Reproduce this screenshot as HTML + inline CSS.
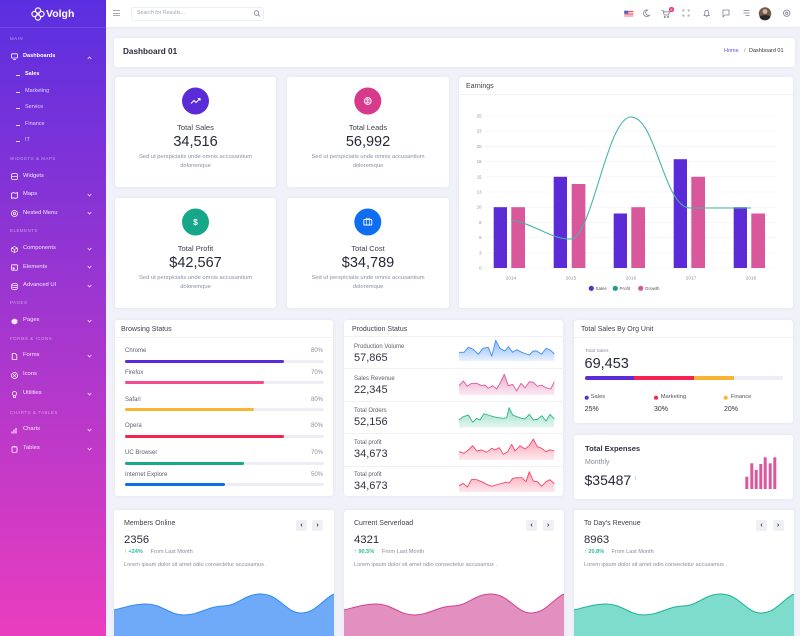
<!DOCTYPE html>
<html><head><meta charset="utf-8">
<style>
*{box-sizing:border-box;margin:0;padding:0}
html,body{width:800px;height:636px;overflow:hidden}
body{background:#f1f1f9;font-family:"Liberation Sans",sans-serif;position:relative;color:#333}
.t{position:absolute;white-space:nowrap;line-height:1}
.card{position:absolute;background:#fff;border-radius:3px;box-shadow:0 0 3px rgba(60,60,120,0.07)}
#sb{position:absolute;left:0;top:0;width:106px;height:636px;background:linear-gradient(180deg,#5a2fe0 0%,#ea3dbe 100%)}
.sec{position:absolute;left:10px;font-size:4.3px;letter-spacing:0.6px;color:rgba(255,255,255,0.5);line-height:1;white-space:nowrap}
.mi{position:absolute;left:23px;font-size:5.8px;color:rgba(255,255,255,0.88);line-height:1;white-space:nowrap;margin-top:0.3px}
.sub{position:absolute;left:25px;font-size:5.5px;color:rgba(255,255,255,0.78);line-height:1;white-space:nowrap;margin-top:0.2px}
.dash{position:absolute;left:16px;width:4px;height:1px;background:rgba(255,255,255,0.8)}
.chev{position:absolute;left:87.5px;width:3px;height:3px;border-right:1px solid rgba(255,255,255,0.7);border-bottom:1px solid rgba(255,255,255,0.7);transform:rotate(45deg)}
.ic{position:absolute;left:10.5px;width:7px;height:7px}
.ttl{font-size:7px;color:#3e4050}
.lbl{font-size:6px;color:#5d6070}
.pct{font-size:6px;color:#8a8d9c;text-align:right}
.track{position:absolute;left:125px;width:199px;height:3px;background:#ededf5;border-radius:2px}
.fill{position:absolute;left:0;top:0;height:3px;border-radius:2px}
.num{font-size:14.5px;color:#262838}
.desc{font-size:5.8px;color:#8a8fa5;text-align:center;width:160px}
.btn{position:absolute;top:520px;width:11px;height:11px;background:#eef0f6;border-radius:2px;font-size:7px;line-height:11px;text-align:center;color:#333;font-weight:bold}
.div{position:absolute;height:1px;background:#f0f0f6}
</style></head>
<body>

<!-- Sidebar -->
<div id="sb">
  <div style="position:absolute;left:0;top:27px;width:106px;height:1px;background:rgba(255,255,255,0.12)"></div>
  <svg style="position:absolute;left:31px;top:7px" width="14" height="14" viewBox="0 0 14 14"><g fill="none" stroke="#fff" stroke-width="1.2"><circle cx="7" cy="3.5" r="2.6"/><circle cx="3.5" cy="7" r="2.6"/><circle cx="10.5" cy="7" r="2.6"/><circle cx="7" cy="10.5" r="2.6"/></g></svg>
  <div class="t" style="left:46px;top:9px;font-size:10.5px;font-weight:bold;color:#fff">Volgh</div>

  <div class="sec" style="top:37px">MAIN</div>
  <svg class="ic" style="top:53px" viewBox="0 0 7 7"><rect x="0.5" y="0.8" width="6" height="4.2" rx="0.6" fill="none" stroke="#fff" stroke-width="0.8"/><line x1="2" y1="6.4" x2="5" y2="6.4" stroke="#fff" stroke-width="0.8"/></svg>
  <div class="mi" style="top:53.5px;font-weight:bold;color:#fff;font-size:5.6px">Dashboards</div>
  <div class="chev" style="top:56.5px;transform:rotate(-135deg)"></div>
  <div class="dash" style="top:75px"></div><div class="sub" style="top:72.3px;color:#fff;font-weight:bold">Sales</div>
  <div class="dash" style="top:92px"></div><div class="sub" style="top:89px">Marketing</div>
  <div class="dash" style="top:108px"></div><div class="sub" style="top:105.3px">Service</div>
  <div class="dash" style="top:125px"></div><div class="sub" style="top:122px">Finance</div>
  <div class="dash" style="top:141px"></div><div class="sub" style="top:138.3px">IT</div>

  <div class="sec" style="top:157px">WIDGETS &amp; MAPS</div>
  <svg class="ic" style="top:173.2px" viewBox="0 0 7 7"><rect x="0.6" y="0.6" width="5.8" height="5.8" rx="1.2" fill="none" stroke="#fff" stroke-width="0.8"/><line x1="0.6" y1="3.5" x2="6.4" y2="3.5" stroke="#fff" stroke-width="0.7"/></svg>
  <div class="mi" style="top:173.4px">Widgets</div>
  <svg class="ic" style="top:191.5px" viewBox="0 0 7 7"><path d="M0.5 1.3 L2.5 0.6 L4.5 1.3 L6.5 0.6 V5.7 L4.5 6.4 L2.5 5.7 L0.5 6.4Z" fill="none" stroke="#fff" stroke-width="0.8"/></svg>
  <div class="mi" style="top:191.7px">Maps</div><div class="chev" style="top:192.5px"></div>
  <svg class="ic" style="top:210.2px" viewBox="0 0 7 7"><circle cx="3.5" cy="3.5" r="3" fill="none" stroke="#fff" stroke-width="0.8"/><circle cx="3.5" cy="3.5" r="1.2" fill="none" stroke="#fff" stroke-width="0.7"/></svg>
  <div class="mi" style="top:210.4px">Nested Menu</div><div class="chev" style="top:211.2px"></div>

  <div class="sec" style="top:229.3px">ELEMENTS</div>
  <svg class="ic" style="top:245.5px" viewBox="0 0 7 7"><path d="M3.5 0.5 L6.4 2 V5 L3.5 6.5 L0.6 5 V2Z M0.6 2 L3.5 3.5 L6.4 2 M3.5 3.5 V6.5" fill="none" stroke="#fff" stroke-width="0.7"/></svg>
  <div class="mi" style="top:245.7px">Components</div><div class="chev" style="top:246.5px"></div>
  <svg class="ic" style="top:264.2px" viewBox="0 0 7 7"><rect x="0.6" y="0.8" width="5.8" height="5.4" rx="0.6" fill="none" stroke="#fff" stroke-width="0.8"/><rect x="1.6" y="3.4" width="2" height="1.8" fill="#fff"/></svg>
  <div class="mi" style="top:264.4px">Elements</div><div class="chev" style="top:265.2px"></div>
  <svg class="ic" style="top:282.5px" viewBox="0 0 7 7"><ellipse cx="3.5" cy="1.5" rx="2.8" ry="1" fill="none" stroke="#fff" stroke-width="0.7"/><path d="M0.7 1.5 V5.5 C0.7 6.8 6.3 6.8 6.3 5.5 V1.5 M0.7 3.5 C0.7 4.8 6.3 4.8 6.3 3.5" fill="none" stroke="#fff" stroke-width="0.7"/></svg>
  <div class="mi" style="top:282.7px">Advanced UI</div><div class="chev" style="top:283.5px"></div>

  <div class="sec" style="top:301.3px">PAGES</div>
  <svg class="ic" style="top:317.5px" viewBox="0 0 7 7"><path d="M3.5 0.5 L6.4 2 V5 L3.5 6.5 L0.6 5 V2Z" fill="rgba(255,255,255,0.9)"/></svg>
  <div class="mi" style="top:317.7px">Pages</div><div class="chev" style="top:318.5px"></div>

  <div class="sec" style="top:336.7px">FORMS &amp; ICONS</div>
  <svg class="ic" style="top:352.8px" viewBox="0 0 7 7"><path d="M1.2 0.5 H4.3 L5.8 2 V6.5 H1.2Z" fill="none" stroke="#fff" stroke-width="0.8"/></svg>
  <div class="mi" style="top:353px">Forms</div><div class="chev" style="top:353.8px"></div>
  <svg class="ic" style="top:371.5px" viewBox="0 0 7 7"><circle cx="3.5" cy="3.5" r="3" fill="none" stroke="#fff" stroke-width="0.8"/><path d="M2.2 2.2 L4.8 4.8 M4.8 2.2 L2.2 4.8" stroke="#fff" stroke-width="0.7"/></svg>
  <div class="mi" style="top:371.7px">Icons</div>
  <svg class="ic" style="top:390.8px" viewBox="0 0 7 7"><circle cx="3.5" cy="2.6" r="2.1" fill="none" stroke="#fff" stroke-width="0.8"/><path d="M2.5 4.5 V6.6 H4.5 V4.5" fill="none" stroke="#fff" stroke-width="0.8"/></svg>
  <div class="mi" style="top:391px">Utilities</div><div class="chev" style="top:391.8px"></div>

  <div class="sec" style="top:410.7px">CHARTS &amp; TABLES</div>
  <svg class="ic" style="top:426.8px" viewBox="0 0 7 7"><path d="M1 6.5 V4.5 M3 6.5 V2.5 M5 6.5 V1" stroke="#fff" stroke-width="1"/></svg>
  <div class="mi" style="top:427px">Charts</div><div class="chev" style="top:427.8px"></div>
  <svg class="ic" style="top:445.5px" viewBox="0 0 7 7"><rect x="1" y="0.8" width="5" height="5.6" rx="0.8" fill="none" stroke="#fff" stroke-width="0.8"/><line x1="2.5" y1="0.8" x2="4.5" y2="0.8" stroke="#fff" stroke-width="1.2"/></svg>
  <div class="mi" style="top:445.7px">Tables</div><div class="chev" style="top:446.5px"></div>
</div>

<!-- Header -->
<div style="position:absolute;left:106px;top:0;width:694px;height:27px;background:#fff;box-shadow:0 1px 2px rgba(0,0,0,0.04)"></div>
<div style="position:absolute;left:113px;top:10px;width:7px;height:0.8px;background:#a9acbf"></div>
<div style="position:absolute;left:113px;top:12.6px;width:7px;height:0.8px;background:#a9acbf"></div>
<div style="position:absolute;left:113px;top:15.2px;width:7px;height:0.8px;background:#a9acbf"></div>
<div style="position:absolute;left:131px;top:7px;width:133px;height:14px;border:1px solid #eceef5;border-radius:3px"></div>
<div class="t" style="left:137px;top:11.2px;font-size:5.3px;color:#a0a4b8">Search for Results...</div>

<!-- Page header card -->
<div class="card" style="left:114px;top:38px;width:681px;height:29px"></div>
<div class="t" style="left:123px;top:47.8px;font-size:8.2px;font-weight:bold;color:#2c2c3c">Dashboard 01</div>
<div class="t" style="left:724px;top:49.3px;font-size:5.5px;color:#6e4ee5">Home</div>
<div class="t" style="left:744px;top:49.3px;font-size:5.5px;color:#888">/</div>
<div class="t" style="left:749px;top:49.3px;font-size:5.5px;color:#333">Dashboard 01</div>

<!-- Stat cards -->
<div class="card" style="left:115px;top:77px;width:161px;height:110px"></div>
<div class="card" style="left:287px;top:77px;width:162px;height:110px"></div>
<div class="card" style="left:115px;top:198px;width:161px;height:110px"></div>
<div class="card" style="left:287px;top:198px;width:162px;height:110px"></div>

<div class="t ttl" style="left:115px;width:161px;text-align:center;top:124.3px;font-size:7.5px">Total Sales</div>
<div class="t num" style="left:115px;width:161px;text-align:center;top:134.5px">34,516</div>
<div class="t desc" style="left:115.5px;top:155.3px">Sed ut perspiciatis unde omnis accusantium</div>
<div class="t desc" style="left:115.5px;top:164.3px">doloremque</div>

<div class="t ttl" style="left:287px;width:162px;text-align:center;top:124.3px;font-size:7.5px">Total Leads</div>
<div class="t num" style="left:287px;width:162px;text-align:center;top:134.5px">56,992</div>
<div class="t desc" style="left:288px;top:155.3px">Sed ut perspiciatis unde omnis accusantium</div>
<div class="t desc" style="left:288px;top:164.3px">doloremque</div>

<div class="t ttl" style="left:115px;width:161px;text-align:center;top:245.3px;font-size:7.5px">Total Profit</div>
<div class="t num" style="left:115px;width:161px;text-align:center;top:255.5px">$42,567</div>
<div class="t desc" style="left:115.5px;top:276.3px">Sed ut perspiciatis unde omnis accusantium</div>
<div class="t desc" style="left:115.5px;top:285.3px">doloremque</div>

<div class="t ttl" style="left:287px;width:162px;text-align:center;top:245.3px;font-size:7.5px">Total Cost</div>
<div class="t num" style="left:287px;width:162px;text-align:center;top:255.5px">$34,789</div>
<div class="t desc" style="left:288px;top:276.3px">Sed ut perspiciatis unde omnis accusantium</div>
<div class="t desc" style="left:288px;top:285.3px">doloremque</div>

<!-- Earnings -->
<div class="card" style="left:459px;top:77px;width:334px;height:231px"></div>
<div class="t ttl" style="left:466px;top:82.5px">Earnings</div>
<div class="div" style="left:459px;top:94px;width:334px"></div>

<!-- Browsing Status -->
<div class="card" style="left:115px;top:320px;width:218px;height:176px"></div>
<div class="t ttl" style="left:121px;top:325.5px">Browsing Status</div>
<div class="div" style="left:115px;top:337px;width:218px"></div>
<div class="t lbl" style="left:125px;top:348px">Chrome</div><div class="t pct" style="left:283px;width:40px;top:348px">80%</div>
<div class="track" style="top:359.5px"><div class="fill" style="width:80%;background:#5a2bd7"></div></div>
<div class="t lbl" style="left:125px;top:370px">Firefox</div><div class="t pct" style="left:283px;width:40px;top:370px">70%</div>
<div class="track" style="top:380.5px"><div class="fill" style="width:70%;background:#f7498d"></div></div>
<div class="t lbl" style="left:125px;top:397px">Safari</div><div class="t pct" style="left:283px;width:40px;top:397px">80%</div>
<div class="track" style="top:407.5px"><div class="fill" style="width:65%;background:#f8b432"></div></div>
<div class="t lbl" style="left:125px;top:423px">Opera</div><div class="t pct" style="left:283px;width:40px;top:423px">80%</div>
<div class="track" style="top:434.5px"><div class="fill" style="width:80%;background:#f5234f"></div></div>
<div class="t lbl" style="left:125px;top:450px">UC Browser</div><div class="t pct" style="left:283px;width:40px;top:450px">70%</div>
<div class="track" style="top:461.5px"><div class="fill" style="width:60%;background:#16aa88"></div></div>
<div class="t lbl" style="left:125px;top:472px">Internet Explore</div><div class="t pct" style="left:283px;width:40px;top:472px">50%</div>
<div class="track" style="top:482.5px"><div class="fill" style="width:50%;background:#0d6ee8"></div></div>

<!-- Production Status -->
<div class="card" style="left:344px;top:320px;width:219px;height:176px"></div>
<div class="t ttl" style="left:352px;top:325.5px">Production Status</div>
<div class="div" style="left:344px;top:336px;width:219px"></div>
<div class="div" style="left:344px;top:368px;width:219px"></div>
<div class="div" style="left:344px;top:401px;width:219px"></div>
<div class="div" style="left:344px;top:433px;width:219px"></div>
<div class="div" style="left:344px;top:465.5px;width:219px"></div>
<div class="t lbl" style="left:354px;top:343.6px">Production Volume</div>
<div class="t" style="left:354px;top:352.5px;font-size:11px;color:#303242">57,865</div>
<div class="t lbl" style="left:354px;top:375.6px">Sales Revenue</div>
<div class="t" style="left:354px;top:384.5px;font-size:11px;color:#303242">22,345</div>
<div class="t lbl" style="left:354px;top:408px">Total Orders</div>
<div class="t" style="left:354px;top:417px;font-size:11px;color:#303242">52,156</div>
<div class="t lbl" style="left:354px;top:440px">Total profit</div>
<div class="t" style="left:354px;top:449px;font-size:11px;color:#303242">34,673</div>
<div class="t lbl" style="left:354px;top:472px">Total profit</div>
<div class="t" style="left:354px;top:481px;font-size:11px;color:#303242">34,673</div>

<!-- Total Sales By Org Unit -->
<div class="card" style="left:574px;top:320px;width:219px;height:103px"></div>
<div class="t ttl" style="left:581px;top:325.5px">Total Sales By Org Unit</div>
<div class="div" style="left:574px;top:337px;width:219px"></div>
<div class="t" style="left:585px;top:349.5px;font-size:4.8px;color:#8a8d9c">Total Sales</div>
<div class="t" style="left:584.5px;top:356.8px;font-size:14.5px;color:#262838">69,453</div>
<div style="position:absolute;left:585px;top:375.5px;width:198px;height:4px;background:#ededf5;border-radius:2px;overflow:hidden">
  <div style="position:absolute;left:0;top:0;width:49px;height:4px;background:#5a2bd7"></div>
  <div style="position:absolute;left:49px;top:0;width:60px;height:4px;background:#f5234f"></div>
  <div style="position:absolute;left:109px;top:0;width:40px;height:4px;background:#f8b432"></div>
</div>
<div class="t" style="left:590.7px;top:394.6px;font-size:5.8px;color:#555">Sales</div>
<div class="t" style="left:660.7px;top:394.6px;font-size:5.8px;color:#555">Marketing</div>
<div class="t" style="left:730.7px;top:394.6px;font-size:5.8px;color:#555">Finance</div>
<div class="t" style="left:584.7px;top:405.6px;font-size:7px;color:#333">25%</div>
<div class="t" style="left:654px;top:405.6px;font-size:7px;color:#333">30%</div>
<div class="t" style="left:724px;top:405.6px;font-size:7px;color:#333">20%</div>

<!-- Total Expenses -->
<div class="card" style="left:574px;top:435px;width:219px;height:64px"></div>
<div class="t" style="left:585px;top:445.3px;font-size:7.6px;color:#2f3142;font-weight:bold">Total Expenses</div>
<div class="t" style="left:585px;top:459.3px;font-size:7px;color:#8a8d9c">Monthly</div>
<div class="t" style="left:584.5px;top:472.5px;font-size:14px;color:#262838">$35487</div>
<div class="t" style="left:633.5px;top:476px;font-size:6px;color:#2dbb98;font-weight:bold">↑</div>

<!-- Bottom cards -->
<div class="card" style="left:114px;top:510px;width:220px;height:140px;overflow:hidden"></div>
<div class="card" style="left:344px;top:510px;width:220px;height:140px;overflow:hidden"></div>
<div class="card" style="left:574px;top:510px;width:220px;height:140px;overflow:hidden"></div>

<div class="t ttl" style="left:124px;top:520.3px">Members Online</div>
<div class="t" style="left:124px;top:534.8px;font-size:11.3px;color:#2a2c3c">2356</div>
<div class="t" style="left:124px;top:549.8px;font-size:5.6px;color:#2dbb98;font-weight:bold">↑ +24%</div>
<div class="t" style="left:150.5px;top:549.8px;font-size:5.6px;color:#8a8d9c">From Last Month</div>
<div class="t" style="left:124px;top:562.5px;font-size:5.6px;color:#8a8d9c">Lorem ipsum dolor sit amet odio consectetur accusamus .</div>
<div class="btn" style="left:296px">‹</div><div class="btn" style="left:312px">›</div>

<div class="t ttl" style="left:354px;top:520.3px">Current Serverload</div>
<div class="t" style="left:354px;top:534.8px;font-size:11.3px;color:#2a2c3c">4321</div>
<div class="t" style="left:354px;top:549.8px;font-size:5.6px;color:#2dbb98;font-weight:bold">↑ 90.5%</div>
<div class="t" style="left:382px;top:549.8px;font-size:5.6px;color:#8a8d9c">From Last Month</div>
<div class="t" style="left:354px;top:562.5px;font-size:5.6px;color:#8a8d9c">Lorem ipsum dolor sit amet odio consectetur accusamus .</div>
<div class="btn" style="left:526px">‹</div><div class="btn" style="left:542.5px">›</div>

<div class="t ttl" style="left:584px;top:520.3px">To Day's Revenue</div>
<div class="t" style="left:584px;top:534.8px;font-size:11.3px;color:#2a2c3c">8963</div>
<div class="t" style="left:584px;top:549.8px;font-size:5.6px;color:#2dbb98;font-weight:bold">↑ 20.8%</div>
<div class="t" style="left:611.5px;top:549.8px;font-size:5.6px;color:#8a8d9c">From Last Month</div>
<div class="t" style="left:584px;top:562.5px;font-size:5.6px;color:#8a8d9c">Lorem ipsum dolor sit amet odio consectetur accusamus .</div>
<div class="btn" style="left:756px">‹</div><div class="btn" style="left:772.5px">›</div>

<!-- Graphics overlay -->
<svg style="position:absolute;left:0;top:0;z-index:5" width="800" height="636" viewBox="0 0 800 636" font-family="Liberation Sans, sans-serif">
  <defs>
    <linearGradient id="gb" x1="0" y1="0" x2="0" y2="1"><stop offset="0" stop-color="#8fbaf8"/><stop offset="1" stop-color="#e8f1fe"/></linearGradient>
    <linearGradient id="gp" x1="0" y1="0" x2="0" y2="1"><stop offset="0" stop-color="#eaa9cd"/><stop offset="1" stop-color="#fbeaf3"/></linearGradient>
    <linearGradient id="gt" x1="0" y1="0" x2="0" y2="1"><stop offset="0" stop-color="#95dcc6"/><stop offset="1" stop-color="#e6f7f1"/></linearGradient>
    <linearGradient id="gr" x1="0" y1="0" x2="0" y2="1"><stop offset="0" stop-color="#f9a5b7"/><stop offset="1" stop-color="#fde9ed"/></linearGradient>
  </defs>

  <!-- header icons -->
  <g fill="none" stroke="#7c7f94" stroke-width="0.8">
    <circle cx="256.5" cy="13" r="2.3"/><line x1="258.2" y1="14.7" x2="260" y2="16.5"/>
    <path d="M647.5 10 A3.3 3.3 0 1 0 649.5 15.2 A2.6 2.6 0 0 1 647.5 10Z"/>
    <path d="M661.5 10.5 H663 L664.2 15 H668.5 L669.5 11.8 H663.6"/>
    <circle cx="664.8" cy="17" r="0.6"/><circle cx="668" cy="17" r="0.6"/>
    <path d="M683 11.5 V10 H684.5 M687.5 10 H689 V11.5 M689 14.5 V16 H687.5 M684.5 16 H683 V14.5"/>
    <path d="M704 15.5 H709.4 L708.6 14.5 V12.2 A1.9 1.9 0 0 0 704.8 12.2 V14.5Z M706 16.6 H707.4"/>
    <path d="M723 10 H729 V15 H725 L723 16.8Z"/>
    <path d="M743.5 10.5 H749.5 M743.5 13 H749.5 M745.5 15.5 H749.5"/>
    <circle cx="786.7" cy="13.2" r="3.2"/><circle cx="786.7" cy="13.2" r="1.2"/>
  </g>
  <rect x="624.3" y="10.8" width="9" height="5.6" fill="#ef4d5f"/>
  <rect x="624.3" y="11.9" width="9" height="0.8" fill="#fff"/><rect x="624.3" y="13.5" width="9" height="0.8" fill="#fff"/><rect x="624.3" y="15.1" width="9" height="0.6" fill="#fff"/>
  <rect x="624.3" y="10.8" width="4" height="3" fill="#4a5fb5"/>
  <circle cx="671.5" cy="9.5" r="2.6" fill="#f0347a"/>
  <text x="671.5" y="10.8" font-size="3.5" fill="#fff" text-anchor="middle">5</text>
  <circle cx="765" cy="13.5" r="6.2" fill="#6d5a4c"/>
  <circle cx="765" cy="11.5" r="2.4" fill="#d6b49a"/>
  <path d="M759.5 17 C761 14.5 769 14.5 770.5 17 A6.2 6.2 0 0 1 759.5 17Z" fill="#2c2624"/>

  <!-- stat icons -->
  <circle cx="195.5" cy="101" r="13.5" fill="#5a2bd7"/>
  <path d="M191 103.5 L194 100.5 L196 102.5 L200 98.5 M197.7 98.5 H200 V100.8" fill="none" stroke="#fff" stroke-width="1"/>
  <circle cx="367.8" cy="101" r="13.5" fill="#d73a8d"/>
  <circle cx="367.8" cy="101" r="3.4" fill="none" stroke="#fff" stroke-width="0.9"/>
  <path d="M364.4 101 H371.2 M367.8 97.6 V104.4 M365.4 98.6 C367 100 368.6 100 370.2 98.6 M365.4 103.4 C367 102 368.6 102 370.2 103.4" fill="none" stroke="#fff" stroke-width="0.6"/>
  <circle cx="195.5" cy="222" r="13.5" fill="#16a789"/>
  <text x="195.5" y="225" font-size="8.5" font-weight="bold" fill="#fff" text-anchor="middle">$</text>
  <circle cx="367.8" cy="222" r="13.5" fill="#0f6ef0"/>
  <rect x="363.8" y="219.5" width="8" height="5.5" rx="0.8" fill="none" stroke="#fff" stroke-width="0.9"/>
  <path d="M366.3 219.5 V218.2 H369.3 V219.5 M366.3 219.5 V225 M369.3 219.5 V225" fill="none" stroke="#fff" stroke-width="0.7"/>

  <!-- Earnings chart -->
  <g stroke="#f2f2f6" stroke-width="0.6">
    <line x1="485" y1="116" x2="776" y2="116"/><line x1="485" y1="131.2" x2="776" y2="131.2"/>
    <line x1="485" y1="146.4" x2="776" y2="146.4"/><line x1="485" y1="161.6" x2="776" y2="161.6"/>
    <line x1="485" y1="176.8" x2="776" y2="176.8"/><line x1="485" y1="192" x2="776" y2="192"/>
    <line x1="485" y1="207.2" x2="776" y2="207.2"/><line x1="485" y1="222.4" x2="776" y2="222.4"/>
    <line x1="485" y1="237.6" x2="776" y2="237.6"/><line x1="485" y1="252.8" x2="776" y2="252.8"/>
    <line x1="485" y1="268" x2="776" y2="268"/>
  </g>
  <g font-size="4.3" fill="#8d8f9e" text-anchor="end">
    <text x="481.5" y="117.5">25</text><text x="481.5" y="132.7">23</text><text x="481.5" y="147.9">20</text>
    <text x="481.5" y="163.1">18</text><text x="481.5" y="178.3">15</text><text x="481.5" y="193.5">13</text>
    <text x="481.5" y="208.7">10</text><text x="481.5" y="223.9">8</text><text x="481.5" y="239.1">5</text>
    <text x="481.5" y="254.3">3</text><text x="481.5" y="269.5">0</text>
  </g>
  <g fill="#5a2bd7">
    <rect x="493.7" y="207.2" width="13.3" height="60.8"/>
    <rect x="553.7" y="176.8" width="13.3" height="91.2"/>
    <rect x="613.7" y="213.5" width="13.3" height="54.5"/>
    <rect x="673.7" y="159.2" width="13.3" height="108.8"/>
    <rect x="733.7" y="207.2" width="13.3" height="60.8"/>
  </g>
  <g fill="#d9589c">
    <rect x="511.3" y="207.2" width="13.7" height="60.8"/>
    <rect x="571.7" y="184" width="13.7" height="84"/>
    <rect x="631.3" y="207.2" width="13.7" height="60.8"/>
    <rect x="691.3" y="176.8" width="13.7" height="91.2"/>
    <rect x="751.3" y="213.5" width="13.7" height="54.5"/>
  </g>
  <path d="M511,220 C535,224 552,240 571,239 C592,238 607,117 631,117 C656,117 664,208 690,208 L751,208" fill="none" stroke="#45b5a5" stroke-width="1.1"/>
  <g font-size="4.8" fill="#8d8f9e" text-anchor="middle">
    <text x="511" y="279.5">2014</text><text x="571" y="279.5">2015</text><text x="631" y="279.5">2016</text>
    <text x="691" y="279.5">2017</text><text x="751" y="279.5">2018</text>
  </g>
  <circle cx="591.3" cy="288.3" r="2.6" fill="#5a2bd7"/>
  <circle cx="615.3" cy="288.3" r="2.6" fill="#1a9e8a"/>
  <circle cx="640.7" cy="288.3" r="2.6" fill="#d9589c"/>
  <g font-size="4.5" fill="#555">
    <text x="595.5" y="289.9">Sales</text><text x="619.5" y="289.9">Profit</text><text x="645" y="289.9">Growth</text>
  </g>

  <!-- Sparklines -->
  <path d="M459,361 L459,352.3 464,352.3 468.3,347.3 473.3,349.3 478.3,354.3 482.7,348.3 488.3,347.3 491.7,356.3 495.7,340.3 500,348.3 505,351 508.3,346.7 512.7,352.3 516.7,349.7 521.7,352.3 529.3,355 533.3,351 536.7,351 541.7,354.3 546,348.3 550.7,350.3 554.3,354 L554.3,361Z" fill="url(#gb)"/>
  <polyline points="459,352.3 464,352.3 468.3,347.3 473.3,349.3 478.3,354.3 482.7,348.3 488.3,347.3 491.7,356.3 495.7,340.3 500,348.3 505,351 508.3,346.7 512.7,352.3 516.7,349.7 521.7,352.3 529.3,355 533.3,351 536.7,351 541.7,354.3 546,348.3 550.7,350.3 554.3,354" fill="none" stroke="#3d8ef5" stroke-width="0.9" stroke-linejoin="round"/>

  <path d="M459,395 L459,385.7 463.3,381 467.3,386.3 471.7,383.3 476.7,383.3 481.7,385.7 485,385 488.3,388.3 492.7,385.7 496.7,389 500,383.3 504.3,374.3 508.3,385.7 512.7,384.3 516.7,391 521,383.3 525,387.7 529.3,381.7 533.3,382.3 537.3,386.3 541.7,385 546,387.7 550.7,389 554.3,381.7 L554.3,395Z" fill="url(#gp)"/>
  <polyline points="459,385.7 463.3,381 467.3,386.3 471.7,383.3 476.7,383.3 481.7,385.7 485,385 488.3,388.3 492.7,385.7 496.7,389 500,383.3 504.3,374.3 508.3,385.7 512.7,384.3 516.7,391 521,383.3 525,387.7 529.3,381.7 533.3,382.3 537.3,386.3 541.7,385 546,387.7 550.7,389 554.3,381.7" fill="none" stroke="#d95a9f" stroke-width="0.9" stroke-linejoin="round"/>

  <path d="M459,427.5 L459,420 463.3,416.7 468.3,415 472.7,422.3 476.7,418.3 480,420 484,413.7 488.3,415 493.3,416.7 498.3,417.7 503.3,418.3 506.7,417.7 509,407.7 512.7,415 516.7,416.7 521.7,418.3 525,419 529.3,414.3 533.3,420 537.3,419.3 541.7,415.7 546,421 550,414.3 554.3,419 L554.3,427.5Z" fill="url(#gt)"/>
  <polyline points="459,420 463.3,416.7 468.3,415 472.7,422.3 476.7,418.3 480,420 484,413.7 488.3,415 493.3,416.7 498.3,417.7 503.3,418.3 506.7,417.7 509,407.7 512.7,415 516.7,416.7 521.7,418.3 525,419 529.3,414.3 533.3,420 537.3,419.3 541.7,415.7 546,421 550,414.3 554.3,419" fill="none" stroke="#2bb48d" stroke-width="0.9" stroke-linejoin="round"/>

  <path d="M459,460 L459,451.7 464,453.3 468.3,450 472.7,445.7 476.7,451 481.7,450 486.7,452.3 491.7,448.3 495,450 499.3,447.7 503.3,454.3 507.7,451.7 511.7,444.3 515,451 520,445.7 525,449 529.3,445.7 533.3,439 537.3,446.7 541.7,448.3 546,451.7 550,449.7 554.3,451 L554.3,460Z" fill="url(#gr)"/>
  <polyline points="459,451.7 464,453.3 468.3,450 472.7,445.7 476.7,451 481.7,450 486.7,452.3 491.7,448.3 495,450 499.3,447.7 503.3,454.3 507.7,451.7 511.7,444.3 515,451 520,445.7 525,449 529.3,445.7 533.3,439 537.3,446.7 541.7,448.3 546,451.7 550,449.7 554.3,451" fill="none" stroke="#f5466a" stroke-width="0.9" stroke-linejoin="round"/>

  <path d="M459,492 L459,485.7 463.3,483.3 467.3,487 471.7,479.3 476.7,479.7 481.7,481.7 486.7,484.3 491.7,486.3 496,485 500.7,483.7 505.7,482.3 509.3,483 512.7,478.3 516.7,477.7 521.7,477.7 526,481.7 529.3,471.7 533.3,481 537.3,481.7 541.7,486.3 546,481.7 550,479.7 554.3,483.7 L554.3,492Z" fill="url(#gr)"/>
  <polyline points="459,485.7 463.3,483.3 467.3,487 471.7,479.3 476.7,479.7 481.7,481.7 486.7,484.3 491.7,486.3 496,485 500.7,483.7 505.7,482.3 509.3,483 512.7,478.3 516.7,477.7 521.7,477.7 526,481.7 529.3,471.7 533.3,481 537.3,481.7 541.7,486.3 546,481.7 550,479.7 554.3,483.7" fill="none" stroke="#f5466a" stroke-width="0.9" stroke-linejoin="round"/>

  <!-- Org legend dots -->
  <circle cx="586.7" cy="397.7" r="2" fill="#5a2bd7"/>
  <circle cx="656" cy="397.7" r="2" fill="#f5234f"/>
  <circle cx="725.7" cy="397.7" r="2" fill="#f8b432"/>

  <!-- Expenses mini bars -->
  <g fill="#d9589c">
    <rect x="745.3" y="476.7" width="3" height="12.3"/>
    <rect x="750.3" y="463.3" width="3" height="25.7"/>
    <rect x="754.7" y="470" width="3" height="19"/>
    <rect x="759.3" y="464" width="3" height="25"/>
    <rect x="763.7" y="457.3" width="3" height="31.7"/>
    <rect x="768.7" y="463.3" width="3" height="25.7"/>
    <rect x="773.3" y="457.3" width="3" height="31.7"/>
  </g>

  <!-- Waves -->
  <path d="M114,610 C126,607 136,604 146,604 C162,604 169,615 184,615 C199,615 209,606 223,606 C238,606 244,594 261,594 C279,594 286,613 301,613 C316,613 324,598 334,594 L334,640 L114,640 Z" fill="#6eaaf7"/>
  <path d="M114,610 C126,607 136,604 146,604 C162,604 169,615 184,615 C199,615 209,606 223,606 C238,606 244,594 261,594 C279,594 286,613 301,613 C316,613 324,598 334,594" fill="none" stroke="#2d8bf3" stroke-width="1"/>
  <path d="M344,610 C356,607 366,604 376,604 C392,604 399,615 414,615 C429,615 439,606 453,606 C468,606 474,594 491,594 C509,594 516,613 531,613 C546,613 554,598 564,594 L564,640 L344,640 Z" fill="#e190bf"/>
  <path d="M344,610 C356,607 366,604 376,604 C392,604 399,615 414,615 C429,615 439,606 453,606 C468,606 474,594 491,594 C509,594 516,613 531,613 C546,613 554,598 564,594" fill="none" stroke="#d4418e" stroke-width="1"/>
  <path d="M574,610 C586,607 596,604 606,604 C622,604 629,615 644,615 C659,615 669,606 683,606 C698,606 704,594 721,594 C739,594 746,613 761,613 C776,613 784,598 794,594 L794,640 L574,640 Z" fill="#7edccd"/>
  <path d="M574,610 C586,607 596,604 606,604 C622,604 629,615 644,615 C659,615 669,606 683,606 C698,606 704,594 721,594 C739,594 746,613 761,613 C776,613 784,598 794,594" fill="none" stroke="#1db396" stroke-width="1"/>
</svg>
</body></html>
